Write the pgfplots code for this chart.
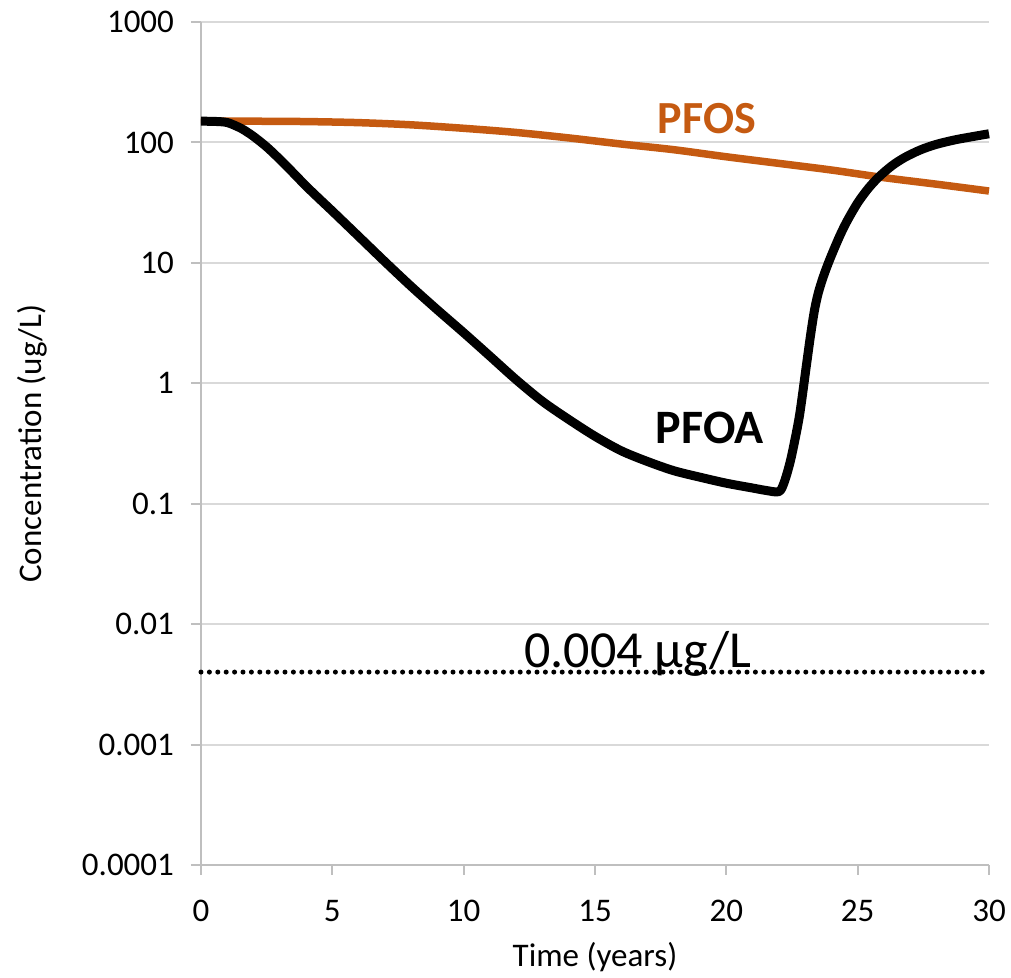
\documentclass[border=0pt]{standalone}
\usepackage{pgfplots}
\pgfplotsset{compat=1.18}
\usepackage{fontspec}
\setmainfont{Carlito}

\definecolor{pfos}{HTML}{C55A11}
\definecolor{gridgray}{HTML}{D9D9D9}
\definecolor{axisgray}{HTML}{BFBFBF}

\begin{document}
\begin{tikzpicture}
\useasboundingbox (-100.5pt,-56.5pt) rectangle (405pt,432.5pt);
\begin{axis}[
    scale only axis,
    width=394pt,
    height=421.5pt,
    ymode=log,
    xmin=0, xmax=30,
    ymin=1e-4, ymax=1000,
    xtick={0,5,10,15,20,25,30},
    ytick={1e-4,1e-3,1e-2,1e-1,1,10,100,1000},
    yticklabels={0.0001,0.001,0.01,0.1,1,10,100,1000},
    yminorticks=false,
    axis x line*=bottom,
    axis y line*=left,
    axis line style={axisgray, line width=1pt, -},
    tick style={axisgray, line width=1pt},
    tick align=outside,
    major tick length=5pt,
    ymajorgrids,
    major grid style={gridgray, line width=1pt},
    /pgf/number format/assume math mode=true,
    ticklabel style={font=\fontsize{16.5}{18}\selectfont, text=black},
    yticklabel style={xshift=-5pt},
    xticklabel style={yshift=-9pt},
    xlabel={Time (years)},
    ylabel={Concentration (ug/L)},
    label style={font=\fontsize{16.5}{18}\selectfont},
    xlabel style={at={(axis description cs:0.5,0)}, anchor=center, yshift=-46pt},
    ylabel style={at={(axis description cs:0,0.5)}, anchor=center, yshift=84.5pt},
    clip=false,
]

% 0.004 ug/L guideline
\addplot[black, line width=2.5pt, line cap=round, dash pattern=on 0pt off 4.2pt]
coordinates {(0,0.004) (30,0.004)};

% PFOS
\addplot[pfos, line width=3.75pt, smooth]
coordinates {
(0,150) (2,150) (4,149) (6,146) (8,140) (10,131) (12,121) (14,109)
(16,97) (18,87) (20,76) (22,67) (24,59) (26,51) (28,45) (30,39.5)
};

% PFOA
\addplot[black, line width=4.5pt, smooth, tension=0.5, line join=round]
coordinates {
(0,150) (0.5,149.5) (1.0,146.2) (1.5,131.8) (1.75,122.2) (2.0,112.2)
(2.5,91.8) (3.0,72.4) (3.5,56.2) (4.0,43.4) (4.5,34.1) (5,26.9) (6,16.6)
(7,10.23) (8,6.38) (9,4.07) (10,2.63) (11,1.68) (12,1.07) (13,0.708)
(14,0.501) (15,0.363) (16,0.275) (17,0.224) (18,0.188) (19,0.166)
(20,0.148) (21,0.135) (21.5,0.129) (22.0,0.126) (22.2,0.15) (22.42,0.218)
(22.6,0.33) (22.8,0.566) (23.06,1.47) (23.2,2.45) (23.35,3.98) (23.5,5.62)
(23.7,7.76) (23.94,10.7) (24.3,16.4) (24.6,22.3) (25.0,31.5) (25.4,41.4)
(25.8,51.5) (26.3,63.9) (26.8,75.2) (27.4,86.9) (28.0,96.4) (28.7,105)
(29.4,112) (30,118)
};

\node[text=pfos, font=\fontsize{23}{26}\selectfont\bfseries, anchor=center]
  at (axis cs:19.26,156.6) {PFOS};
\node[text=black, font=\fontsize{24}{27}\selectfont\bfseries, anchor=center]
  at (axis cs:19.38,0.428) {PFOA};
\node[text=black, font=\fontsize{26}{29}\selectfont, anchor=base]
  at (axis cs:16.63,0.00435) {0.004 µg/L};

\end{axis}
\end{tikzpicture}
\end{document}
